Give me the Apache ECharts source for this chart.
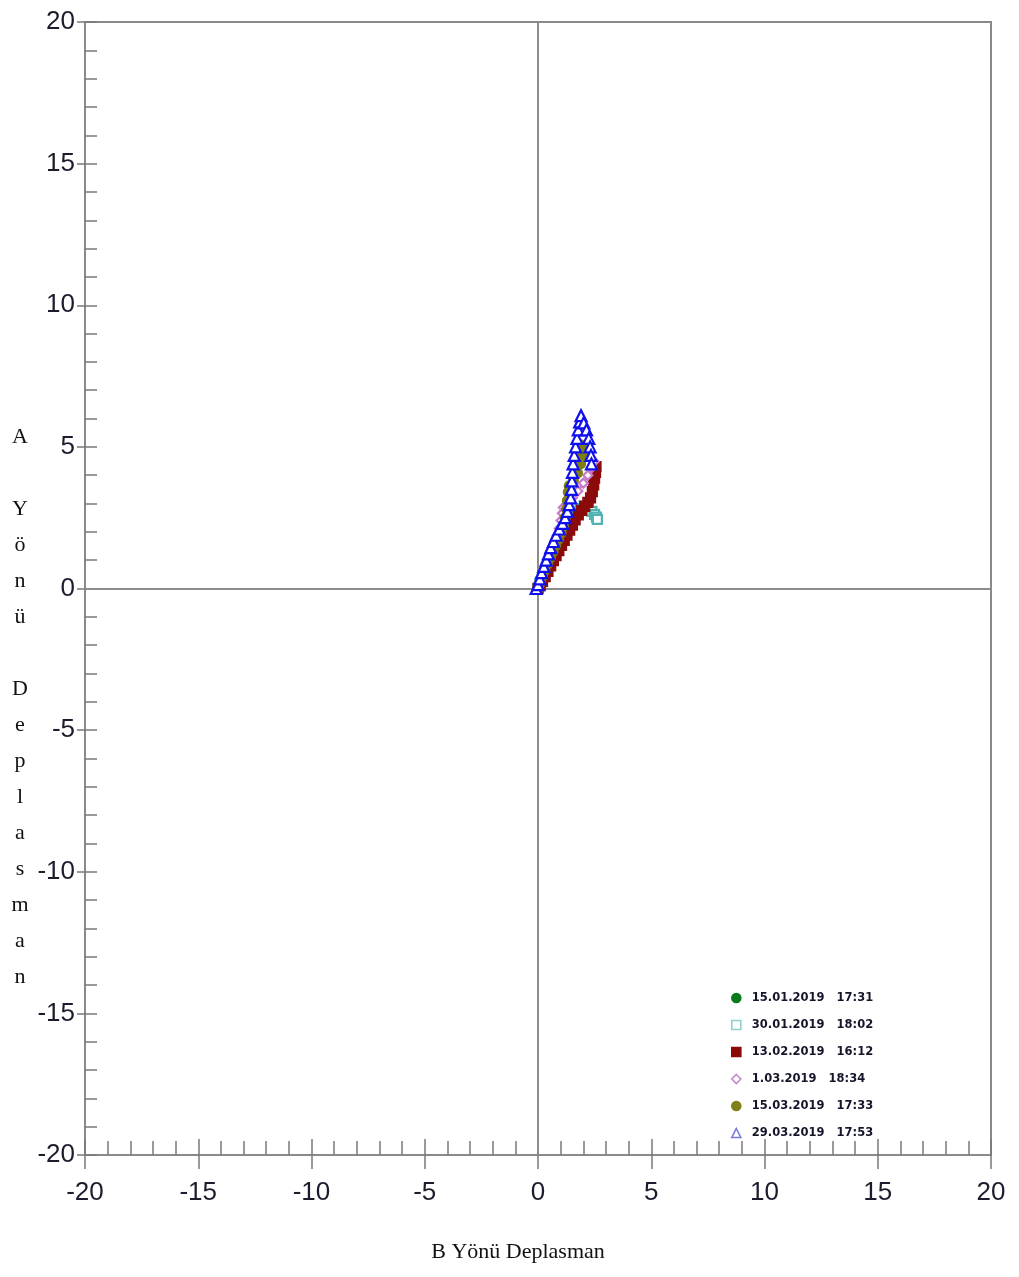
<!DOCTYPE html>
<html>
<head>
<meta charset="utf-8">
<script src="https://cdn.jsdelivr.net/npm/echarts@6/dist/echarts.min.js"></script>
<style>html,body{margin:0;padding:0;background:#fff}#c{width:1019px;height:1277px}</style>
</head>
<body>
<div id="c"></div>
<script>
// ---- Data ----
const seriesNames = ['15.01.2019   17:31', '30.01.2019   18:02', '13.02.2019   16:12', '1.03.2019   18:34', '15.03.2019   17:33', '29.03.2019   17:53'];
const xTicks = [-20, -15, -10, -5, 0, 5, 10, 15, 20];
const yTicks = [-20, -15, -10, -5, 0, 5, 10, 15, 20];
// [B displacement, A displacement]
const s1501 = [[0,0],[0.01,0.04],[0.03,0.08],[0.02,0.12],[0.04,0.15]];
const s3001 = [[0,0],[0.08,0.18],[0.18,0.38],[0.3,0.6],[0.42,0.82],[0.54,1.04],[0.66,1.24],[0.8,1.46],[0.94,1.68],[1.08,1.88],[1.22,2.08],[1.38,2.28],[1.54,2.48],[1.7,2.66],[1.86,2.82],[2.04,2.92],[2.22,2.84],[2.38,2.72],[2.5,2.62],[2.58,2.52],[2.62,2.44]];
const s1302 = [[0,0],[0.1,0.1],[0.2,0.25],[0.32,0.42],[0.44,0.6],[0.56,0.8],[0.68,0.98],[0.8,1.16],[0.92,1.34],[1.04,1.52],[1.16,1.7],[1.28,1.88],[1.4,2.06],[1.52,2.24],[1.64,2.42],[1.78,2.6],[1.92,2.76],[2.06,2.9],[2.2,3.04],[2.32,3.2],[2.4,3.42],[2.46,3.66],[2.5,3.9],[2.54,4.1],[2.56,4.3]];
const s0103 = [[0,0],[0.06,0.2],[0.14,0.42],[0.24,0.66],[0.36,0.9],[0.48,1.14],[0.6,1.38],[0.72,1.62],[0.84,1.86],[0.94,2.12],[1.02,2.4],[1.08,2.66],[1.12,2.86],[1.3,3.0],[1.52,3.2],[1.76,3.44],[2.0,3.72],[2.2,4.0],[2.36,4.26],[2.48,4.48]];
const s1503 = [[0,0],[0.1,0.2],[0.2,0.42],[0.3,0.64],[0.42,0.86],[0.54,1.08],[0.66,1.3],[0.78,1.52],[0.9,1.74],[1.02,1.96],[1.12,2.2],[1.2,2.5],[1.26,2.8],[1.3,3.1],[1.34,3.4],[1.38,3.62],[1.56,3.82],[1.74,4.08],[1.88,4.4],[1.98,4.72],[1.94,4.96],[1.86,5.08]];
const s2903 = [[-0.08,0],[0.0,0.14],[0.08,0.34],[0.16,0.56],[0.26,0.78],[0.36,1.0],[0.46,1.22],[0.56,1.44],[0.68,1.66],[0.8,1.88],[0.94,2.1],[1.08,2.3],[1.2,2.5],[1.3,2.72],[1.38,2.96],[1.44,3.2],[1.48,3.5],[1.5,3.8],[1.52,4.1],[1.55,4.4],[1.6,4.7],[1.66,5.0],[1.72,5.3],[1.78,5.6],[1.84,5.88],[1.9,6.1],[2.02,5.85],[2.14,5.6],[2.24,5.3],[2.3,5.0],[2.34,4.7],[2.36,4.4]];

const seriesData = [s1501, s3001, s1302, s0103, s1503, s2903];
const seriesColors = ['#0a7a1e', '#4fb3b3', '#8b0a0a', '#c77ac7', '#7f7f10', '#1010ee'];
const seriesFill = ['#0a7a1e', '#ffffff', '#8b0a0a', '#ffffff', '#7f7f10', '#ffffff'];
const seriesSymbols = ['circle', 'rect', 'rect', 'diamond', 'circle', 'triangle'];
const legendColors = ['#0a7a1e', '#8fd0d0', '#8b0a0a', '#c28ac8', '#80801a', '#7a7ad8'];

const chart = echarts.init(document.getElementById('c'), null, {renderer: 'canvas'});

const axisCol = '#8a8a8a';
const tickCol = '#7a7a7a';
const labelStyle = {fontSize: 26, color: '#1c1c2c', fontFamily: '"Liberation Sans", Arial, sans-serif'};

function mainX() {
  return {
    type: 'value', min: xTicks[0], max: xTicks[xTicks.length-1], interval: 5, position: 'bottom', gridIndex: 0,
    axisLine: {show: true, onZero: false, lineStyle: {color: axisCol, width: 2}},
    axisTick: {show: true, inside: true, length: 16, lineStyle: {color: tickCol, width: 1.5}},
    minorTick: {show: true, splitNumber: 5, length: 14, lineStyle: {color: tickCol, width: 1.5}},
    axisLabel: Object.assign({margin: 25}, labelStyle),
    splitLine: {show: false}
  };
}
function outX() {
  return {
    type: 'value', min: xTicks[0], max: xTicks[xTicks.length-1], interval: 5, position: 'bottom', gridIndex: 0,
    axisLine: {show: false, onZero: false},
    axisTick: {show: true, inside: false, length: 14, lineStyle: {color: tickCol, width: 1.5}},
    axisLabel: {show: false}, splitLine: {show: false}
  };
}
function mainY() {
  return {
    type: 'value', min: yTicks[0], max: yTicks[yTicks.length-1], interval: 5, position: 'left', gridIndex: 0,
    axisLine: {show: true, onZero: false, lineStyle: {color: axisCol, width: 2}},
    axisTick: {show: true, inside: true, length: 12, lineStyle: {color: tickCol, width: 1.5}},
    minorTick: {show: true, splitNumber: 5, length: 12, lineStyle: {color: tickCol, width: 1.5}},
    axisLabel: Object.assign({margin: 10}, labelStyle),
    splitLine: {show: false}
  };
}
function outY() {
  return {
    type: 'value', min: yTicks[0], max: yTicks[yTicks.length-1], interval: 5, position: 'left', gridIndex: 0,
    axisLine: {show: false, onZero: false},
    axisTick: {show: true, inside: false, length: 8, lineStyle: {color: tickCol, width: 1.5}},
    axisLabel: {show: false}, splitLine: {show: false}
  };
}

const series = seriesData.map((d, i) => {
  const s = {
    name: seriesNames[i],
    type: 'line',
    xAxisIndex: 0, yAxisIndex: 0,
    data: d,
    symbol: seriesSymbols[i],
    symbolSize: seriesSymbols[i] === 'triangle' ? 11 : 9,
    showAllSymbol: true,
    lineStyle: {color: seriesColors[i], width: 2},
    itemStyle: {color: seriesFill[i], borderColor: seriesColors[i], borderWidth: 2.2},
    emphasis: {disabled: true},
    animation: false,
    z: 3 + i
  };
  if (i === 0) {
    s.markLine = {
      silent: true, symbol: 'none', label: {show: false}, animation: false,
      lineStyle: {color: '#8c8c8c', width: 2, type: 'solid'},
      data: [{xAxis: 0}, {yAxis: 0}]
    };
  }
  return s;
});

chart.setOption({
  backgroundColor: '#ffffff',
  animation: false,
  grid: {left: 85, right: 28, top: 22, bottom: 122, show: true, borderColor: axisCol, borderWidth: 2, backgroundColor: 'transparent'},
  xAxis: [mainX(), outX()],
  yAxis: [mainY(), outY()],
  legend: {
    orient: 'vertical', left: 726, top: 986,
    itemWidth: 9, itemHeight: 9, itemGap: 13,
    textStyle: {fontSize: 11.5, fontWeight: 'bold', color: '#15152a', fontFamily: '"DejaVu Sans", sans-serif', lineHeight: 14, padding: [0, 0, 0, 6]},
    data: seriesNames.map((n, i) => ({
      name: n, icon: seriesSymbols[i],
      itemStyle: {color: seriesFill[i] === '#ffffff' ? '#ffffff' : legendColors[i], borderColor: legendColors[i], borderWidth: 1.6}
    })),
    selectedMode: false
  },
  graphic: [
    {type: 'text', x: 20, y: 419, style: {text: 'A\n \nY\nö\nn\nü\n \nD\ne\np\nl\na\ns\nm\na\nn', textAlign: 'center', font: '22px "Liberation Serif", "Times New Roman", serif', lineHeight: 36, fill: '#111'}},
    {type: 'text', x: 518, y: 1252, style: {text: 'B Yönü Deplasman', textAlign: 'center', textVerticalAlign: 'middle', font: '22px "Liberation Serif", "Times New Roman", serif', fill: '#111'}}
  ],
  series: series
});
</script>
</body>
</html>
